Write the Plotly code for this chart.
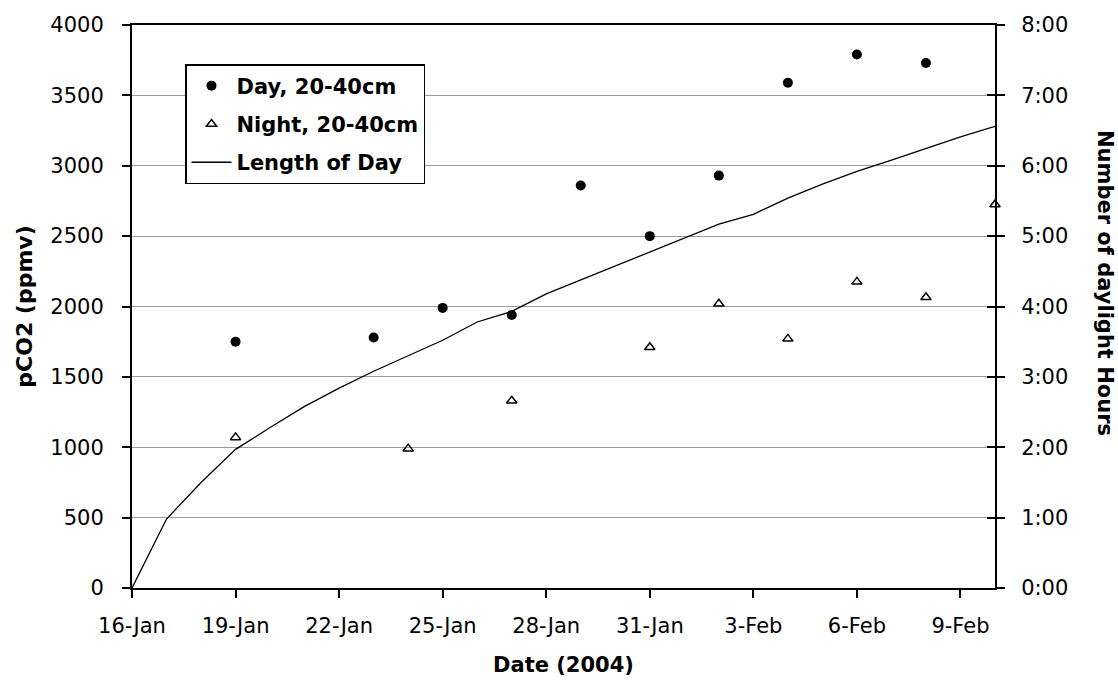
import plotly.graph_objects as go

# ---- data ----
day_dates = ["2004-01-19", "2004-01-23", "2004-01-25", "2004-01-27", "2004-01-29",
             "2004-01-31", "2004-02-02", "2004-02-04", "2004-02-06", "2004-02-08"]
day_pco2 = [1750, 1780, 1990, 1940, 2860, 2500, 2930, 3590, 3790, 3730]

night_dates = ["2004-01-19", "2004-01-24", "2004-01-27", "2004-01-31", "2004-02-02",
               "2004-02-04", "2004-02-06", "2004-02-08", "2004-02-10"]
night_pco2 = [1070, 990, 1330, 1710, 2020, 1770, 2175, 2065, 2725]

len_dates = ["2004-01-%02d" % d for d in range(16, 32)] + ["2004-02-%02d" % d for d in range(1, 11)]
len_hours = [0.0, 0.98, 1.50, 1.97, 2.28, 2.58, 2.84, 3.08, 3.30, 3.52, 3.78, 3.93, 4.18,
             4.38, 4.57, 4.77, 4.98, 5.17, 5.31, 5.54, 5.74, 5.92, 6.08, 6.25, 6.41, 6.56]

right_tickvals = [0, 1, 2, 3, 4, 5, 6, 7, 8]
right_ticktext = ["0:00", "1:00", "2:00", "3:00", "4:00", "5:00", "6:00", "7:00", "8:00"]

FONT = "DejaVu Sans"

fig = go.Figure()
fig.add_trace(go.Scatter(
    x=day_dates, y=day_pco2, mode="markers", name="Day, 20-40cm",
    marker=dict(symbol="circle", size=10, color="black"),
    cliponaxis=False, legendgroup="a", yaxis="y"))
fig.add_trace(go.Scatter(
    x=night_dates, y=night_pco2, mode="markers", name="Night, 20-40cm",
    marker=dict(symbol="triangle-up-open", size=9, color="black", line=dict(width=1.5)),
    cliponaxis=False, legendgroup="b", yaxis="y"))
fig.add_trace(go.Scatter(
    x=len_dates, y=len_hours, mode="lines", name="Length of Day",
    line=dict(color="black", width=1.3),
    cliponaxis=False, legendgroup="c", yaxis="y2"))

W, H = 1118, 681
L, R, T, B = 132, 123, 25, 93

fig.update_layout(
    width=W, height=H,
    margin=dict(l=L, r=R, t=T, b=B),
    paper_bgcolor="white", plot_bgcolor="white",
    font=dict(family=FONT, size=21, color="black"),
    showlegend=True,
    legend=dict(
        x=(185 - L) / (W - L - R), y=(H - B - 64) / (H - T - B),
        xanchor="left", yanchor="top",
        bgcolor="white", bordercolor="black", borderwidth=1.5,
        font=dict(family=FONT, size=21, color="black", weight="bold"),
        tracegroupgap=8, itemwidth=40,
    ),
    xaxis=dict(
        type="date", range=["2004-01-16", "2004-02-10"],
        tick0="2004-01-16", dtick=3 * 86400000, tickformat="%-d-%b",
        showgrid=False, zeroline=False, automargin=False,
        showline=True, linecolor="black", linewidth=2, mirror=True,
        ticks="outside", ticklen=8, tickwidth=1.5, tickcolor="black",
        ticklabelstandoff=10,
        title=dict(text="Date (2004)", font=dict(family=FONT, size=21, weight="bold"), standoff=20),
    ),
    yaxis=dict(
        range=[0, 4000], dtick=500, tick0=0, automargin=False,
        showgrid=True, gridcolor="#9a9a9a", gridwidth=1.2, zeroline=False,
        showline=True, linecolor="black", linewidth=2,
        ticks="outside", ticklen=8, tickwidth=1.5, tickcolor="black",
        ticklabelstandoff=14,
        title=dict(text="pCO2 (ppmv)", font=dict(family=FONT, size=22, weight="bold"), standoff=12),
    ),
    yaxis2=dict(
        range=[0, 8], overlaying="y", side="right", automargin=False,
        tickmode="array", tickvals=right_tickvals, ticktext=right_ticktext,
        showgrid=False, zeroline=False,
        showline=True, linecolor="black", linewidth=2,
        ticks="outside", ticklen=8, tickwidth=1.5, tickcolor="black",
        ticklabelstandoff=12,
    ),
    yaxis3=dict(
        range=[0, 8], overlaying="y", side="right", anchor="x", automargin=False,
        tickmode="array", tickvals=right_tickvals, showticklabels=False,
        showgrid=False, zeroline=False, showline=False,
        ticks="inside", ticklen=8, tickwidth=1.5, tickcolor="black",
    ),
    annotations=[dict(
        text="Number of daylight Hours", textangle=90,
        xref="paper", yref="paper", x=1 + (1105 - (W - R)) / (W - L - R), y=(H - B - 283) / (H - T - B),
        xanchor="center", yanchor="middle", showarrow=False,
        font=dict(family=FONT, size=21, color="black", weight="bold"),
    )],
)
# dummy invisible trace to activate yaxis3 ticks
fig.add_trace(go.Scatter(x=[None], y=[None], yaxis="y3", showlegend=False, hoverinfo="skip"))

fig.write_html("out.html")
